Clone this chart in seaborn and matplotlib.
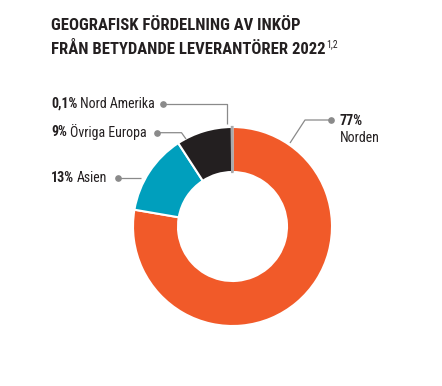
import matplotlib
matplotlib.use("Agg")
import matplotlib.pyplot as plt
import seaborn as sns
from matplotlib import font_manager

# data
regions = ["Norden", "Asien", "Övriga Europa", "Nord Amerika"]
shares = [77, 13, 9, 0.1]
share_labels = ["77%", "13%", "9%", "0,1%"]
colors = ["#F15A29", "#009FBD", "#231F20", "#A7A9AC"]

title_lines = ["GEOGRAFISK FÖRDELNING AV INKÖP", "FRÅN BETYDANDE LEVERANTÖRER 2022"]
title_note = "1,2"

W, H = 442, 386
TEXT = "#231F20"
LINE = "#8A8A8A"


def pick_font(names):
    for name in names:
        try:
            font_manager.findfont(font_manager.FontProperties(family=name),
                                  fallback_to_default=False)
            return name
        except ValueError:
            continue
    return "DejaVu Sans"


def px(x, y):
    # pixel coords (top-left origin) -> data coords
    return x, H - y


sns.set_theme(style="white")
font = pick_font(["Liberation Sans Narrow", "Roboto Condensed", "Open Sans Condensed", "Liberation Sans"])
plt.rcParams["font.family"] = [font, "DejaVu Sans"]

fig = plt.figure(figsize=(W / 100, H / 100), dpi=100)
ax = fig.add_axes([0, 0, 1, 1])

wedges, _ = ax.pie(
    shares,
    colors=colors,
    startangle=90,
    counterclock=False,
    radius=99.5,
    center=px(232.5, 226.5),
    wedgeprops=dict(width=45, edgecolor="white", linewidth=1.5),
)
# make the tiny slice visible
wedges[3].set_edgecolor(colors[3])
wedges[3].set_linewidth(1.6)

ax.set_xlim(0, W)
ax.set_ylim(0, H)
ax.set_aspect("auto")
ax.axis("off")

renderer = fig.canvas.get_renderer()

# title
t1 = ax.text(*px(51, 25), title_lines[0], fontsize=12, fontweight="bold",
             color=TEXT, va="center", ha="left")
t2 = ax.text(*px(51, 49), title_lines[1], fontsize=12, fontweight="bold",
             color=TEXT, va="center", ha="left")
bb = t2.get_window_extent(renderer=renderer)
ax.text(bb.x1 + 0.5, H - 44.5, title_note, fontsize=7, color=TEXT,
        va="center", ha="left")

# callout lines
callouts = {
    "Nord Amerika": [(163, 104), (227.3, 104), (227.3, 124)],
    "Övriga Europa": [(157, 132.7), (181.5, 132.7), (186, 139)],
    "Asien": [(118, 177.5), (141, 177.5)],
    "Norden": [(331, 120), (305, 120), (290, 143)],
}
for name, pts in callouts.items():
    xs = [p[0] for p in pts]
    ys = [H - p[1] for p in pts]
    ax.plot(xs, ys, color=LINE, lw=0.9, solid_capstyle="butt")
    ax.plot(xs[0], ys[0], "o", color=LINE, markersize=3.8)

# left labels: bold share + regular name
label_pos = {"Nord Amerika": 104, "Övriga Europa": 132.5, "Asien": 177.5}
for region, share in zip(regions, share_labels):
    if region not in label_pos:
        continue
    y = label_pos[region]
    tb = ax.text(*px(51, y), share, fontsize=10, fontweight="bold",
                 color=TEXT, va="center", ha="left")
    bb = tb.get_window_extent(renderer=renderer)
    ax.text(bb.x1 + 3, H - y, region, fontsize=10, color=TEXT,
            va="center", ha="left")

# right label
ax.text(*px(340, 121), share_labels[0], fontsize=10, fontweight="bold",
        color=TEXT, va="center", ha="left")
ax.text(*px(340, 138.5), regions[0], fontsize=10, color=TEXT,
        va="center", ha="left")

fig.savefig("out.png", dpi=100)
plt.close(fig)
